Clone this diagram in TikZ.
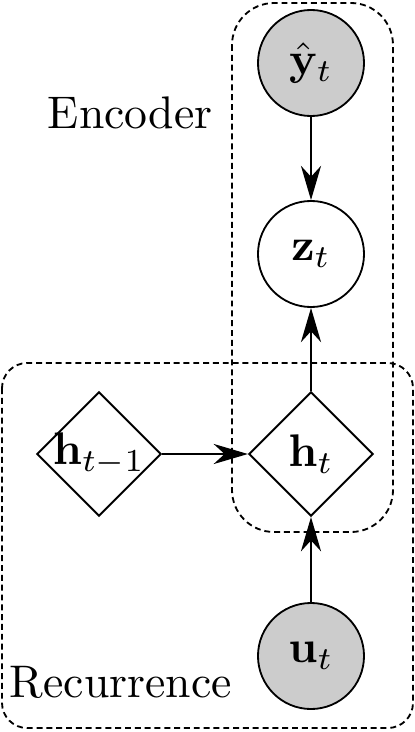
\documentclass[tikz,border=0pt]{standalone}
\usetikzlibrary{shapes.geometric,arrows.meta}
\begin{document}
\begin{tikzpicture}[x=0.2188pt,y=-0.2188pt,
  obs/.style={circle,draw,fill=black!20,minimum size=23.2pt,inner sep=0pt,line width=0.4pt},
  lat/.style={circle,draw,fill=white,minimum size=23.2pt,inner sep=0pt,line width=0.4pt},
  det/.style={diamond,draw,aspect=1,minimum size=27.2pt,inner sep=0pt,line width=0.4pt},
  edge/.style={-{Stealth[length=7.5pt,width=4.4pt,inset=2.4pt]},line width=0.4pt},
  platebox/.style={draw,dash pattern=on 1.3pt off 0.85pt,line width=0.4pt}]
\useasboundingbox (0,0) rectangle (415,732);
\draw[platebox,rounded corners=9.2pt] (232,3) rectangle (393,532);
\draw[platebox,rounded corners=5.5pt] (2,363) rectangle (413,728);
\node[obs] (yhat) at (311,63) {$\hat{\mathbf{y}}_t$};
\node[lat] (z) at (311,254) {$\mathbf{z}_t$};
\node[det] (ht) at (311,454) {$\mathbf{h}_t$};
\node[det] (htm1) at (99,454) {\makebox[0pt]{$\mathbf{h}_{t-1}$}};
\node[obs] (ut) at (311,656) {$\mathbf{u}_t$};
\node[anchor=base west,inner sep=0pt] (enc) at (47,128) {Encoder};
\node[anchor=base west,inner sep=0pt] (rec) at (9,697) {Recurrence};
\draw[edge] (yhat) -- (z);
\draw[edge] (ht) -- (z);
\draw[edge] (htm1) -- (ht);
\draw[edge] (ut) -- (ht);
\end{tikzpicture}
\end{document}
